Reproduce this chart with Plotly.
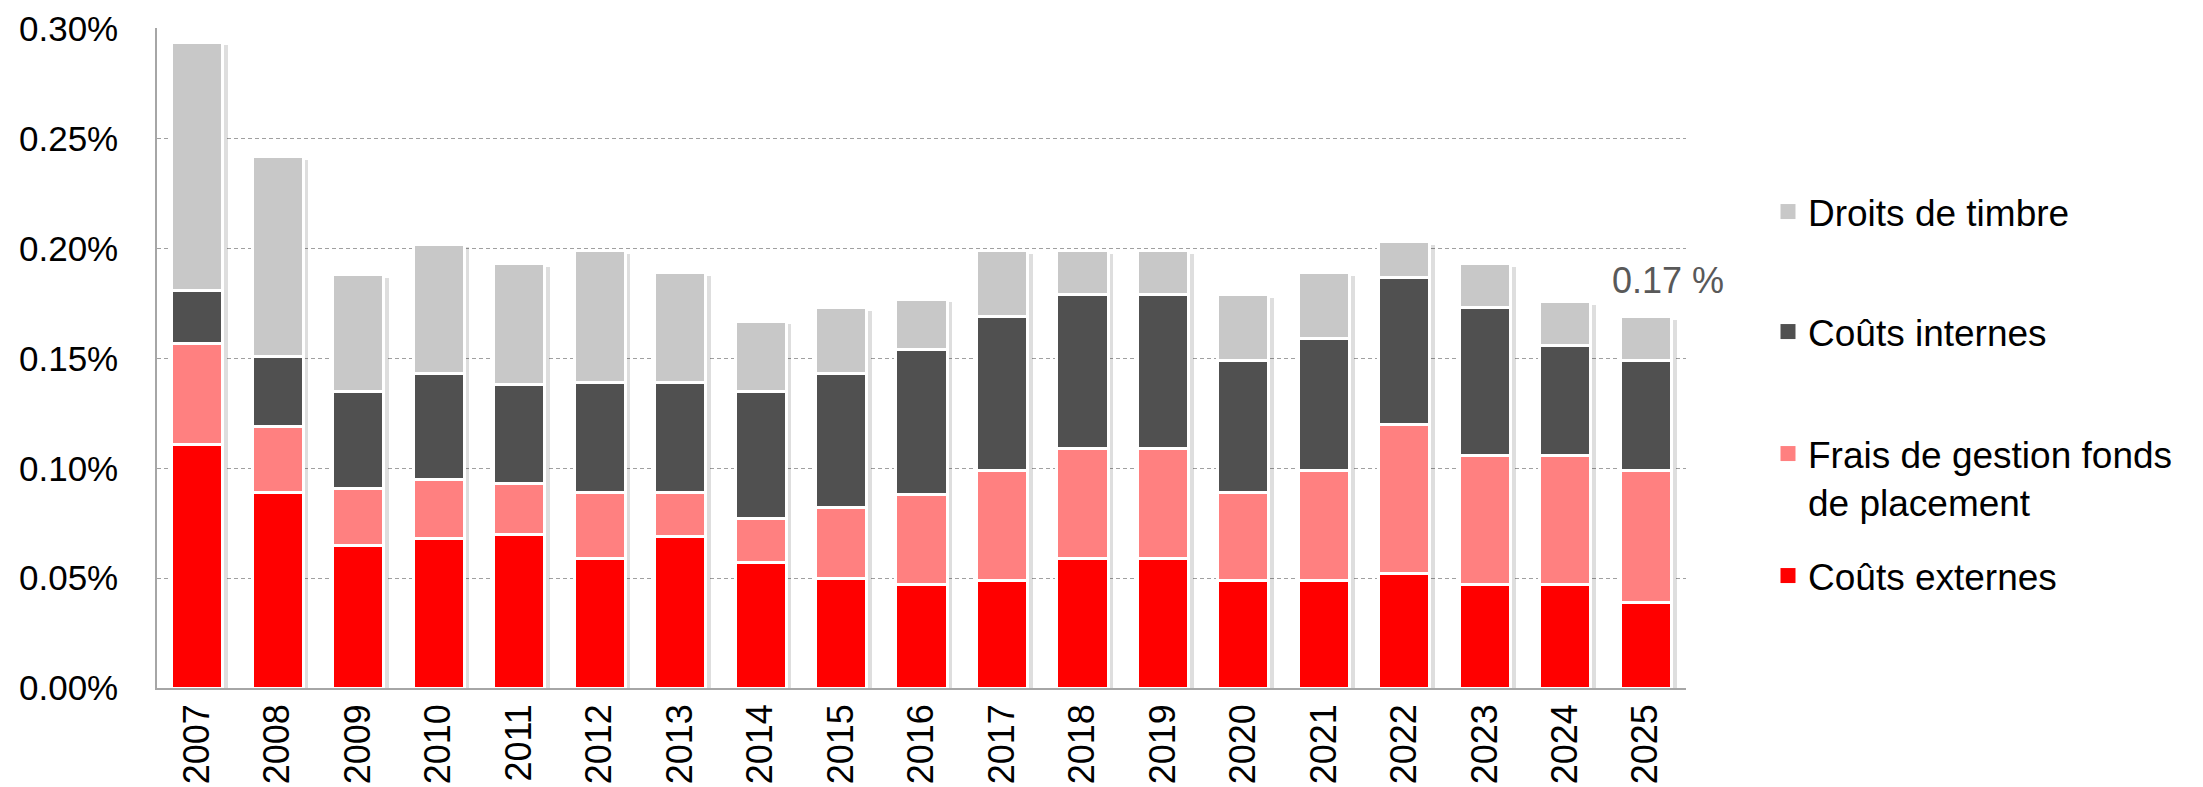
import plotly.graph_objects as go

# values in % of assets
years = [str(y) for y in range(2007, 2026)]
couts_externes = [0.111, 0.089, 0.065, 0.068, 0.070, 0.059, 0.069, 0.057, 0.050, 0.047,
                  0.049, 0.059, 0.059, 0.049, 0.049, 0.052, 0.047, 0.047, 0.039]
frais_fonds = [0.046, 0.030, 0.026, 0.027, 0.023, 0.030, 0.020, 0.020, 0.032, 0.041,
               0.050, 0.050, 0.050, 0.040, 0.050, 0.068, 0.059, 0.059, 0.060]
couts_internes = [0.024, 0.032, 0.044, 0.048, 0.045, 0.050, 0.050, 0.058, 0.061, 0.066,
                  0.070, 0.070, 0.070, 0.060, 0.060, 0.067, 0.067, 0.050, 0.050]
droits_timbre = [0.113, 0.091, 0.053, 0.059, 0.055, 0.060, 0.050, 0.032, 0.030, 0.023,
                 0.030, 0.020, 0.020, 0.030, 0.030, 0.016, 0.020, 0.020, 0.020]
y_ticks = [0, 0.05, 0.10, 0.15, 0.20, 0.25, 0.30]
y_ticktext = ["0.00%", "0.05%", "0.10%", "0.15%", "0.20%", "0.25%", "0.30%"]
last_label = "0.17 %"

series = [
    ("Coûts externes", couts_externes, "#FF0000", "legend4"),
    ("Frais de gestion fonds<br>de placement", frais_fonds, "#FF8080", "legend3"),
    ("Coûts internes", couts_internes, "#505050", "legend2"),
    ("Droits de timbre", droits_timbre, "#C8C8C8", "legend"),
]

totals = [sum(v) for v in zip(couts_externes, frais_fonds, couts_internes, droits_timbre)]

FONT = "Arial, Liberation Sans, sans-serif"
# the page body adds an 8px offset, so the figure is 8px smaller than the window
PAGE_OFF = 8
W, H = 2203 - PAGE_OFF, 787 - PAGE_OFF
L, R, T, B = 149, 517, 20, 99
BAR_W = 0.635

fig = go.Figure()

# drop shadow behind each stacked bar (base subplot, drawn under the bars)
fig.add_trace(go.Bar(
    x=years, y=[t - 0.0015 for t in totals], width=BAR_W, offset=-BAR_W / 2 + 0.065,
    marker=dict(color="rgba(0,0,0,0.13)", line=dict(width=0)),
    showlegend=False, hoverinfo="skip", xaxis="x", yaxis="y",
))

for name, vals, color, leg in series:
    fig.add_trace(go.Bar(
        x=years, y=vals, name=name, width=BAR_W,
        marker=dict(color=color, line=dict(color="white", width=3)),
        showlegend=False, xaxis="x2", yaxis="y2",
    ))
    # legend entry with a larger square swatch
    fig.add_trace(go.Scatter(
        x=[None], y=[None], mode="markers", name=name, legend=leg,
        marker=dict(symbol="square", size=15, color=color),
        xaxis="x2", yaxis="y2",
    ))

fig.add_annotation(
    x=len(years) - 1, y=totals[-1], xref="x", yref="y", text=last_label,
    showarrow=False, xshift=22, yshift=36,
    font=dict(family=FONT, size=36, color="#595959"),
)

# plot area in screen pixels: x 157..1686, y 28..688
TOP, BOT = PAGE_OFF + T, 688


def py(pix):
    return (BOT - pix) / (BOT - TOP)


def px(pix):
    return (pix - 157) / 1529


legend_common = dict(
    xanchor="left", yanchor="middle", valign="top",
    font=dict(family=FONT, size=37, color="#000000"),
    bgcolor="rgba(0,0,0,0)", itemclick=False,
)
lx = px(1768)

fig.update_layout(
    width=W, height=H,
    margin=dict(l=L, r=R, t=T, b=B),
    barmode="stack",
    plot_bgcolor="white", paper_bgcolor="white",
    font=dict(family=FONT, size=36, color="#000000"),
    legend=dict(x=lx, y=py(212), **legend_common),
    legend2=dict(x=lx, y=py(332), **legend_common),
    legend3=dict(x=lx, y=py(478), **legend_common),
    legend4=dict(x=lx, y=py(576), **legend_common),
    xaxis=dict(
        type="category", range=[-0.5, len(years) - 0.5], automargin=False,
        showline=True, linecolor="#A6A6A6", linewidth=1.5,
        showgrid=False, ticks="", tickangle=-90,
        tickfont=dict(family=FONT, size=36, color="#000000"),
    ),
    yaxis=dict(
        range=[0, 0.3004], tickvals=y_ticks, ticktext=y_ticktext, automargin=False,
        showline=True, linecolor="#A6A6A6", linewidth=1.5,
        showgrid=True, gridcolor="#A0A0A0", griddash="4px,3px", gridwidth=1,
        zeroline=False, ticks="", ticklabelstandoff=30, ticklabeloverflow="allow",
        tickfont=dict(family=FONT, size=35, color="#000000"),
    ),
    xaxis2=dict(overlaying="x", matches="x", visible=False, type="category"),
    yaxis2=dict(overlaying="y", matches="y", visible=False),
    bargap=0.365,
)

fig.write_html("out.html")
